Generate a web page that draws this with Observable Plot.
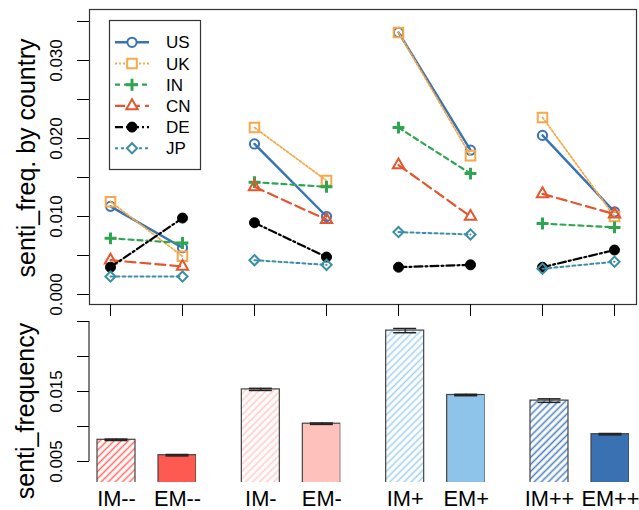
<!DOCTYPE html>
<html><head><meta charset="utf-8">
<script src="https://cdn.jsdelivr.net/npm/d3@7"></script>
<script src="https://cdn.jsdelivr.net/npm/@observablehq/plot@0.6"></script>
<style>body{margin:0;background:#fff;} #chart svg{display:block;overflow:visible;}</style>
</head><body><div id="chart"></div>
<script>
// ---------- data ----------
const categories = ["IM--","EM--","IM-","EM-","IM+","EM+","IM++","EM++"];
const groups = ["--","-","+","++"];
const kinds = ["IM","EM"];
const countries = ["US","UK","IN","CN","DE","JP"];
const US = [0.0113, 0.0060, 0.0193, 0.0100, 0.0336, 0.0185, 0.0204, 0.0106];
const UK = [0.0119, 0.0049, 0.0214, 0.0146, 0.0336, 0.0178, 0.0227, 0.0100];
const IN = [0.0072, 0.0066, 0.0144, 0.0138, 0.0214, 0.0155, 0.0091, 0.0086];
const CN = [0.0044, 0.0036, 0.0138, 0.0096, 0.0166, 0.0100, 0.0129, 0.0103];
const DE = [0.0035, 0.0098, 0.0092, 0.0048, 0.0035, 0.0038, 0.0035, 0.0057];
const JP = [0.0023, 0.0023, 0.0044, 0.0038, 0.0080, 0.0077, 0.0033, 0.0042];
const barValues = [0.0081, 0.0059, 0.0153, 0.0104, 0.0237, 0.0145, 0.0137, 0.0089];
const barErrors = [0.0001, 0.0001, 0.00015, 0.0001, 0.0003, 0.0001, 0.00025, 0.0001];
const yTicksTop = [0, 0.005, 0.01, 0.015, 0.02, 0.025, 0.03, 0.035];
const yLabelsTop = [0, 0.01, 0.02, 0.03];
const yTicksBottom = [0.005, 0.01, 0.015, 0.02, 0.025];
const yLabelsBottom = [0.005, 0.015];

// ---------- styles ----------
const font = "'Liberation Sans', Arial, Helvetica, sans-serif";
const seriesStyle = {
  US: {color: "#3873B6", dash: null,      width: 2.4, symbol: "circle",   d3s: d3.symbolCircle,   r: 4.6, fill: "none",    sw: 2},
  UK: {color: "#F5A94A", dash: "2,2",     width: 1.8, symbol: "square",   d3s: d3.symbolSquare,   r: 5.4, fill: "none",    sw: 2},
  IN: {color: "#2FA552", dash: "5,4",     width: 2.2, symbol: "plus",     d3s: d3.symbolPlus,     r: 3.9, fill: "none",    sw: 3},
  CN: {color: "#E4572E", dash: "10,5",    width: 2.2, symbol: "triangle", d3s: d3.symbolTriangle, r: 4.2, fill: "none",    sw: 2},
  DE: {color: "#000000", dash: "8,3,2,3", width: 2.2, symbol: "circle",   d3s: d3.symbolCircle,   r: 5.0, fill: "#000000", sw: 1},
  JP: {color: "#3C8FA5", dash: "3,3",     width: 2.0, symbol: "diamond2", d3s: d3.symbolDiamond2, r: 4.6, fill: "none",    sw: 2}
};
const barFills = ["url(#hatchRed)", "#FF5A52", "url(#hatchPink)", "#FFC1BB",
                  "url(#hatchLightBlue)", "#8EC4E9", "url(#hatchBlue)", "#3A71B3"];
const hatchSpecs = [
  {id: "hatchRed", color: "#FF7068"},
  {id: "hatchPink", color: "#FFCCC7"},
  {id: "hatchLightBlue", color: "#A6D2F0"},
  {id: "hatchBlue", color: "#4F83C2"}
];

const seriesValues = {US, UK, IN, CN, DE, JP};
const rows = countries.flatMap(c => categories.map((cat, i) => ({
  country: c, cat, group: groups[Math.floor(i / 2)], value: seriesValues[c][i]
})));

// ---------- top panel ----------
const topMarks = [
  Plot.frame({stroke: "#333", strokeWidth: 1.2}),
  Plot.axisY({ticks: yTicksTop, tickSize: 12, tickFormat: () => "", label: null}),
  Plot.text(yLabelsTop, {y: d => d, text: d => d.toFixed(3), frameAnchor: "left", textAnchor: "middle", dx: -33, rotate: -90, fontSize: 17, fill: "black"}),
  Plot.axisX({tickSize: 12, tickFormat: () => "", label: null}),
  Plot.text(["senti_freq. by country"], {frameAnchor: "left", textAnchor: "middle", dx: -63, dy: 1, rotate: -90, fontSize: 25, fill: "black"})
];
for (const c of countries) {
  const s = seriesStyle[c];
  const data = rows.filter(d => d.country === c);
  topMarks.push(
    Plot.line(data, {x: "cat", y: "value", z: "group", stroke: s.color, strokeWidth: s.width, strokeDasharray: s.dash}),
    Plot.dot(data, {x: "cat", y: "value", symbol: s.symbol, r: s.r, stroke: s.color, fill: s.fill, strokeWidth: s.sw})
  );
}
const topPlot = Plot.plot({
  width: 639, height: 318,
  marginLeft: 89, marginRight: 3, marginTop: 9, marginBottom: 14,
  x: {type: "point", domain: categories, padding: 0, insetLeft: 20, insetRight: 21},
  y: {domain: [0, 0.035], insetTop: 12, insetBottom: 10},
  style: {fontFamily: font, background: "white", color: "black"},
  marks: topMarks
});

// legend inside top panel
{
  const lg = d3.select(topPlot).append("g").attr("font-family", font).attr("text-anchor", "start");
  lg.append("rect").attr("x", 109.5).attr("y", 20.5).attr("width", 91).attr("height", 149)
    .attr("fill", "white").attr("stroke", "#333").attr("stroke-width", 1.2);
  countries.forEach((c, i) => {
    const s = seriesStyle[c];
    const y = 42.3 + i * 21.2;
    lg.append("line").attr("x1", 115).attr("x2", 149).attr("y1", y).attr("y2", y)
      .attr("stroke", s.color).attr("stroke-width", s.width).attr("stroke-dasharray", s.dash);
    lg.append("path").attr("d", d3.symbol(s.d3s, Math.PI * s.r * s.r)())
      .attr("transform", `translate(132,${y})`)
      .attr("fill", s.fill === "none" ? "white" : s.fill).attr("stroke", s.color).attr("stroke-width", s.sw);
    lg.append("text").attr("x", 166).attr("y", y + 6).attr("font-size", 17).attr("fill", "black").text(c);
  });
}

// ---------- bottom panel ----------
const bars = categories.map((cat, i) => ({
  cat, kind: kinds[i % 2], group: groups[Math.floor(i / 2)],
  value: barValues[i], err: barErrors[i], fill: barFills[i]
}));
const first = () => groups[0];
const bottomPlot = Plot.plot({
  width: 639, height: 192,
  marginLeft: 89, marginRight: 10, marginTop: 3, marginBottom: 28,
  fx: {domain: groups, paddingInner: 0.2587, paddingOuter: 0, axis: null, round: false},
  x: {domain: kinds, paddingInner: 0.377, paddingOuter: 0, insetLeft: 8, axis: null, round: false},
  y: {domain: [0.002, 0.025]},
  color: {type: "identity"},
  style: {fontFamily: font, background: "white", color: "black"},
  marks: [
    Plot.barY(bars, {fx: "group", x: "kind", y: "value", fill: "fill", stroke: "#444", strokeWidth: 1.2, clip: true}),
    Plot.ruleX(bars, {fx: "group", x: "kind", y1: d => d.value - d.err, y2: d => d.value + d.err, stroke: "#222", strokeWidth: 1.2}),
    Plot.tickY(bars, {fx: "group", x: "kind", y: d => d.value + d.err, insetLeft: 7.5, insetRight: 7.5, stroke: "#222", strokeWidth: 1.5}),
    Plot.tickY(bars, {fx: "group", x: "kind", y: d => d.value - d.err, insetLeft: 7.5, insetRight: 7.5, stroke: "#222", strokeWidth: 1.5}),
    Plot.axisY({ticks: yTicksBottom, tickSize: 12, tickFormat: () => "", label: null}),
    Plot.text(yLabelsBottom, {fx: first, y: d => d, text: d => d.toFixed(3), frameAnchor: "left", textAnchor: "middle", dx: -33, rotate: -90, fontSize: 17, fill: "black"}),
    Plot.text(["senti_frequency"], {fx: first, frameAnchor: "left", textAnchor: "middle", dx: -64, dy: 9, rotate: -90, fontSize: 25, fill: "black"}),
    Plot.text(bars, {fx: "group", x: "kind", text: "cat", frameAnchor: "bottom", lineAnchor: "bottom", dy: 23, fontSize: 21.8, fill: "black"})
  ]
});
{
  const svg = d3.select(bottomPlot);
  const defs = svg.insert("defs", ":first-child");
  for (const h of hatchSpecs) {
    const p = defs.append("pattern").attr("id", h.id).attr("patternUnits", "userSpaceOnUse")
      .attr("width", 5).attr("height", 5).attr("patternTransform", "rotate(45)");
    p.append("rect").attr("width", 5).attr("height", 5).attr("fill", "white");
    p.append("line").attr("x1", 2.5).attr("x2", 2.5).attr("y1", 0).attr("y2", 5)
      .attr("stroke", h.color).attr("stroke-width", 1.6);
  }
  const ys = bottomPlot.scale("y");
  svg.append("line").attr("x1", 89).attr("x2", 89)
    .attr("y1", ys.apply(yTicksBottom[yTicksBottom.length - 1])).attr("y2", ys.apply(yTicksBottom[0]))
    .attr("stroke", "black").attr("stroke-width", 1);
}

document.getElementById("chart").append(topPlot, bottomPlot);
</script>
</body></html>
